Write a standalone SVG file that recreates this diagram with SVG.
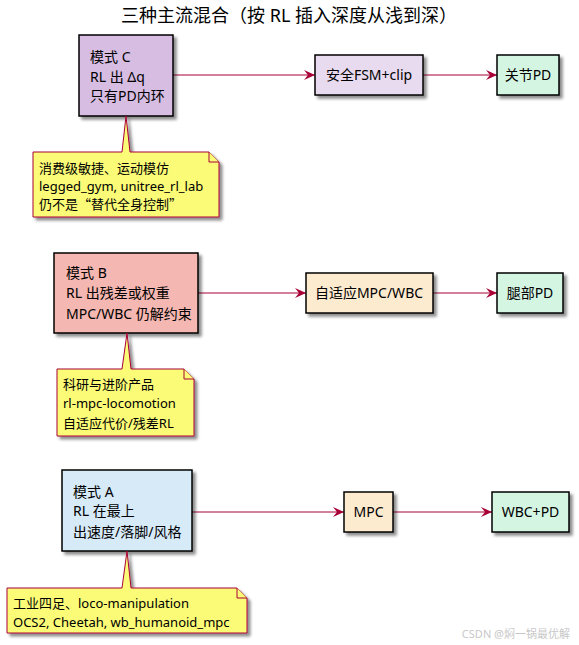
<svg xmlns="http://www.w3.org/2000/svg" width="579" height="645" viewBox="0 0 579 645">
<defs>
<filter id="sh" x="-10%" y="-10%" width="130%" height="140%">
<feGaussianBlur in="SourceAlpha" stdDeviation="1.6"/>
<feOffset dx="3" dy="3" result="b"/>
<feComponentTransfer><feFuncA type="linear" slope="0.45"/></feComponentTransfer>
<feMerge><feMergeNode/><feMergeNode in="SourceGraphic"/></feMerge>
</filter>
<marker id="ah" viewBox="0 0 12 10" refX="11" refY="5" markerWidth="12" markerHeight="10" markerUnits="userSpaceOnUse" orient="auto">
<path d="M0,0 L11,5 L0,10 L4,5 Z" fill="#A80036"/>
</marker>
</defs>
<style>
text{font-family:"Noto Sans","Noto Sans CJK SC",sans-serif;fill:#000}
.t{font-size:18px}
.n{font-size:14px}
.m{font-size:13px}
.q{font-family:"Noto Sans CJK SC",sans-serif}
.box{stroke:#000;stroke-width:1.5}
.note{fill:#FBFB77;stroke:#A80036;stroke-width:1}
.c{stroke:#A80036;stroke-width:1;fill:none}
.wm{font-size:11px;fill:#c8c8c8}
</style>
<rect width="579" height="645" fill="#fff"/>
<text class="t" x="289" y="22" text-anchor="middle">三种主流混合（按 RL 插入深度从浅到深）</text>

<g id="connectors">
<line class="c" x1="173" y1="75" x2="315" y2="75" marker-end="url(#ah)"/>
<line class="c" x1="423" y1="75" x2="497" y2="75" marker-end="url(#ah)"/>
<line class="c" x1="198" y1="293" x2="306" y2="293" marker-end="url(#ah)"/>
<line class="c" x1="433" y1="293" x2="497" y2="293" marker-end="url(#ah)"/>
<line class="c" x1="192" y1="512" x2="344" y2="512" marker-end="url(#ah)"/>
<line class="c" x1="393" y1="512" x2="492" y2="512" marker-end="url(#ah)"/>
</g>

<g id="modeC">
<rect class="box" x="79" y="35" width="94" height="81" fill="#D7BDE2" filter="url(#sh)"/>
<text class="n" x="90" y="62">模式 C</text>
<text class="n" x="90" y="82">RL 出 Δq</text>
<text class="n" x="90" y="101">只有PD内环</text>
</g>
<g id="safety">
<rect class="box" x="315" y="55" width="108" height="40" fill="#E8DAEF" filter="url(#sh)"/>
<text class="n" x="369" y="80" text-anchor="middle">安全FSM+clip</text>
</g>
<g id="jointPD">
<rect class="box" x="497" y="55" width="62" height="40" fill="#D5F5E3" filter="url(#sh)"/>
<text class="n" x="528" y="80" text-anchor="middle">关节PD</text>
</g>
<g id="noteC">
<path class="note" d="M33,152 H122 L126,116 L130,152 H209 L219,162 V217 H33 Z" filter="url(#sh)"/>
<path class="note" d="M209,152 V162 H219" fill="none"/>
<text class="m" x="39" y="173">消费级敏捷、运动模仿</text>
<text class="m" x="39" y="191">legged_gym, unitree_rl_lab</text>
<text class="m" x="39" y="209">仍不是<tspan class="q">“</tspan>替代全身控制<tspan class="q">”</tspan></text>
</g>

<g id="modeB">
<rect class="box" x="54" y="253" width="144" height="80" fill="#F5B7B1" filter="url(#sh)"/>
<text class="n" x="66" y="278">模式 B</text>
<text class="n" x="66" y="298">RL 出残差或权重</text>
<text class="n" x="66" y="319">MPC/WBC 仍解约束</text>
</g>
<g id="adaptive">
<rect class="box" x="306" y="273" width="127" height="40" fill="#FDEBD0" filter="url(#sh)"/>
<text class="n" x="369" y="298" text-anchor="middle">自适应MPC/WBC</text>
</g>
<g id="legPD">
<rect class="box" x="497" y="273" width="66" height="40" fill="#D5F5E3" filter="url(#sh)"/>
<text class="n" x="530" y="298" text-anchor="middle">腿部PD</text>
</g>
<g id="noteB">
<path class="note" d="M57,369 H122 L127,333 L131,369 H184 L194,379 V436 H57 Z" filter="url(#sh)"/>
<path class="note" d="M184,369 V379 H194" fill="none"/>
<text class="m" x="63" y="389">科研与进阶产品</text>
<text class="m" x="63" y="408">rl-mpc-locomotion</text>
<text class="m" x="63" y="428">自适应代价/残差RL</text>
</g>

<g id="modeA">
<rect class="box" x="62" y="470" width="130" height="81" fill="#D6EAF8" filter="url(#sh)"/>
<text class="n" x="73" y="497">模式 A</text>
<text class="n" x="73" y="516">RL 在最上</text>
<text class="n" x="73" y="537">出速度/落脚/风格</text>
</g>
<g id="mpc">
<rect class="box" x="344" y="492" width="49" height="40" fill="#FDEBD0" filter="url(#sh)"/>
<text class="n" x="368.500" y="517" text-anchor="middle">MPC</text>
</g>
<g id="wbcpd">
<rect class="box" x="492" y="492" width="77" height="40" fill="#D5F5E3" filter="url(#sh)"/>
<text class="n" x="530.500" y="517" text-anchor="middle">WBC+PD</text>
</g>
<g id="noteA">
<path class="note" d="M7,588 H122 L127,551 L131,588 H237 L247,598 V633 H7 Z" filter="url(#sh)"/>
<path class="note" d="M237,588 V598 H247" fill="none"/>
<text class="m" x="13" y="608">工业四足、loco-manipulation</text>
<text class="m" x="13" y="627">OCS2, Cheetah, wb_humanoid_mpc</text>
</g>

<text class="wm" x="570" y="638" text-anchor="end">CSDN @焖一锅最优解</text>
</svg>
